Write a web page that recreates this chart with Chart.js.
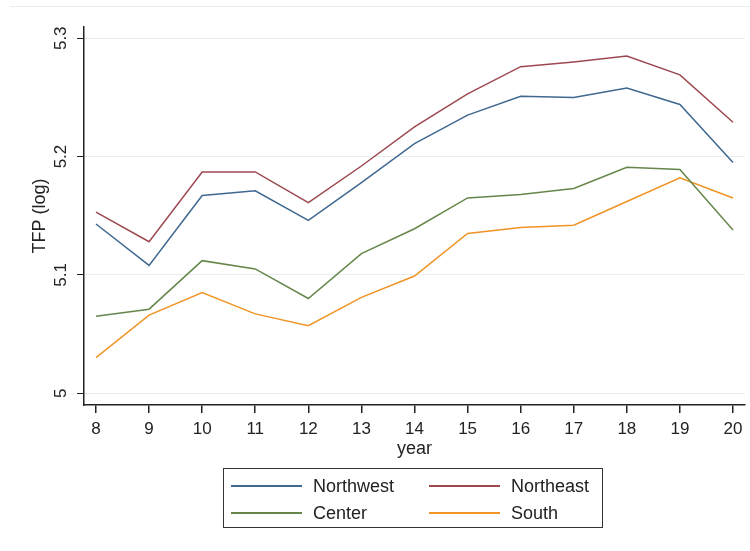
<!DOCTYPE html>
<html>
<head>
<meta charset="utf-8">
<script src="https://cdn.jsdelivr.net/npm/chart.js@4"></script>
<style>
  body { margin: 0; background: #fff; font-family: "Liberation Sans", Arial, sans-serif; }
  #wrap { position: relative; width: 750px; height: 551px; }
  #topline { position: absolute; left: 10px; top: 6px; width: 740px; height: 1px; background: #e9eff1; }
  #legend { position: absolute; left: 223px; top: 468px; width: 378px; height: 58px;
            border: 1px solid #333; }
  #legend .ln { position: absolute; width: 71px; height: 2px; }
  #legend .tx { position: absolute; font-size: 18px; color: #222; line-height: 18px; }
</style>
</head>
<body>
<div id="wrap">
  <canvas id="myChart" width="750" height="551"></canvas>
  <div id="topline"></div>
  <div id="legend"></div>
</div>
<script>
var years = [8, 9, 10, 11, 12, 13, 14, 15, 16, 17, 18, 19, 20];
var yTicks = [5, 5.1, 5.2, 5.3];

var northwest = [5.143, 5.108, 5.167, 5.171, 5.146, 5.178, 5.211, 5.235, 5.251, 5.250, 5.258, 5.244, 5.195];
var northeast = [5.153, 5.128, 5.187, 5.187, 5.161, 5.192, 5.225, 5.253, 5.276, 5.280, 5.285, 5.269, 5.229];
var center    = [5.065, 5.071, 5.112, 5.105, 5.080, 5.118, 5.139, 5.165, 5.168, 5.173, 5.191, 5.189, 5.138];
var south     = [5.030, 5.066, 5.085, 5.067, 5.057, 5.081, 5.099, 5.135, 5.140, 5.142, 5.162, 5.182, 5.165];

function pts(arr) {
    return years.map(function (y, i) { return { x: y, y: arr[i] }; });
}
function line(label, color, arr) {
    return { label: label, data: pts(arr), borderColor: color, borderWidth: 1.5,
             pointRadius: 0, fill: false, tension: 0 };
}

var font = "'Liberation Sans', Arial, sans-serif";

var ctx = document.getElementById('myChart').getContext('2d');
var chart = new Chart(ctx, {
    type: 'line',
    data: {
        datasets: [
            line('Northwest', '#3f6890', northwest),
            line('Northeast', '#9d4850', northeast),
            line('Center', '#66864a', center),
            line('South', '#ef9425', south)
        ]
    },
    options: {
        responsive: false,
        animation: false,
        devicePixelRatio: 1,
        layout: { padding: { top: 27, right: 5, bottom: 91, left: 29 } },
        plugins: { legend: { display: false }, tooltip: { enabled: false } },
        scales: {
            x: {
                type: 'linear',
                min: 7.774, max: 20.226,
                afterBuildTicks: function (s) { s.ticks = years.map(function (v) { return { value: v }; }); },
                afterFit: function (s) { s.height = 55; },
                grid: { drawOnChartArea: false, drawTicks: true, tickLength: 8, tickColor: '#222', lineWidth: 1.5 },
                border: { display: true, color: '#222', width: 1.5 },
                ticks: { font: { family: font, size: 17 }, color: '#222', padding: 6, maxRotation: 0, autoSkip: false },
                title: { display: true, text: 'year', font: { family: font, size: 18 }, color: '#222', padding: { top: -2, bottom: 0 } }
            },
            y: {
                min: 4.990, max: 5.3095,
                afterBuildTicks: function (s) { s.ticks = yTicks.map(function (v) { return { value: v }; }); },
                afterFit: function (s) { s.width = 55; },
                grid: { color: '#e6eef0', lineWidth: 1, drawTicks: true, tickLength: 7, tickColor: '#222' },
                border: { display: true, color: '#222', width: 1.5 },
                ticks: {
                    font: { family: font, size: 17 }, color: '#222', padding: 4,
                    minRotation: 90, maxRotation: 90, crossAlign: 'center',
                    callback: function (v) { return String(Math.round(v * 10) / 10); }
                },
                title: { display: true, text: 'TFP (log)', font: { family: font, size: 18 }, color: '#222', padding: 0 }
            }
        }
    }
});

// legend box built from the datasets
var lg = document.getElementById('legend');
chart.data.datasets.forEach(function (ds, i) {
    var col = i % 2, row = Math.floor(i / 2);
    var left = 7 + col * 198, mid = 17 + row * 27;
    var l = document.createElement('div');
    l.className = 'ln';
    l.style.left = left + 'px';
    l.style.top = (mid - 1) + 'px';
    l.style.background = ds.borderColor;
    lg.appendChild(l);
    var t = document.createElement('div');
    t.className = 'tx';
    t.style.left = (left + 82) + 'px';
    t.style.top = (mid - 9) + 'px';
    t.textContent = ds.label;
    lg.appendChild(t);
});
</script>
</body>
</html>
